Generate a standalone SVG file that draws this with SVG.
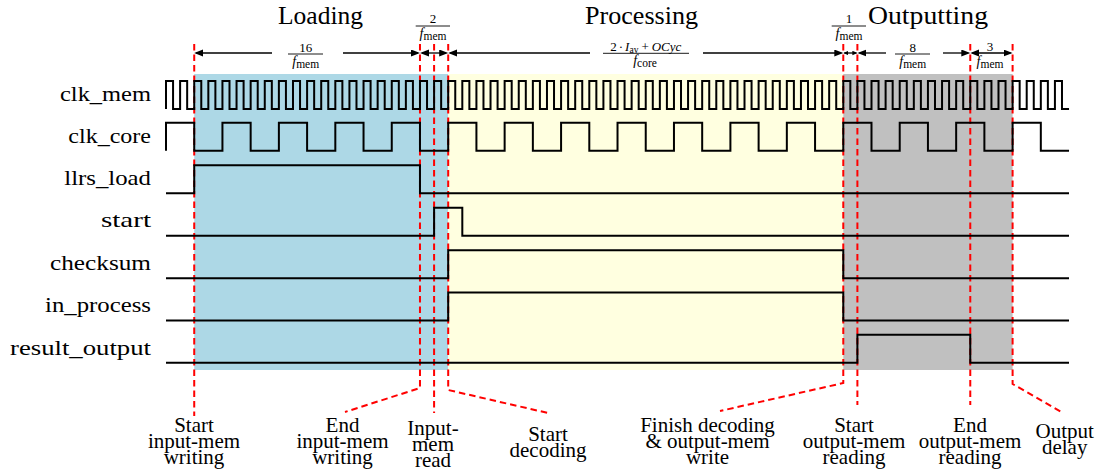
<svg xmlns="http://www.w3.org/2000/svg" width="1102" height="474" viewBox="0 0 1102 474">
<style>
.wave{fill:none;stroke:#000;stroke-width:2;stroke-linejoin:miter}
.lead{fill:none;stroke:#f00;stroke-width:2;stroke-dasharray:6.5 4}
.dim{fill:none;stroke:#000;stroke-width:1.3}
.bar{stroke:#000;stroke-width:0.9}
text{font-family:"Liberation Serif",serif;fill:#000}
.sig{font-size:21px}
.head{font-size:25px;text-anchor:middle}
.lbl{font-size:21px;text-anchor:middle}
.num{font-size:13px;text-anchor:middle}
.it{font-style:italic}
</style>
<defs>
<marker id="ah" markerUnits="userSpaceOnUse" markerWidth="10" markerHeight="8" refX="7" refY="3.5" orient="auto-start-reverse"><path d="M0,0 L9,3.5 L0,7 z" fill="#000"/></marker>
<marker id="ahs" markerUnits="userSpaceOnUse" markerWidth="6" markerHeight="5" refX="4" refY="2.2" orient="auto-start-reverse"><path d="M0,0 L5,2.2 L0,4.4 z" fill="#000"/></marker>
</defs>
<rect width="1102" height="474" fill="#fff"/>
<g id="phases">
<rect x="194.22" y="74" width="253.98" height="296" fill="#ADD8E6"/>
<rect x="448.2" y="74" width="395.08" height="296" fill="#FFFFE0"/>
<rect x="843.28" y="74" width="169.32" height="296" fill="#C0C0C0"/>
</g>
<g id="connectors">
<path class="lead" d="M194.22,44 V416"/>
<path class="lead" d="M419.98,44 V388 L345,412"/>
<path class="lead" d="M434.09,44 V413"/>
<path class="lead" d="M448.2,44 V390 L548,413"/>
<path class="lead" d="M843.28,44 V383 L720,411"/>
<path class="lead" d="M857.39,44 V405"/>
<path class="lead" d="M970.27,44 V405"/>
<path class="lead" d="M1012.6,44 V384 L1063,413"/>
<path class="dim" d="M196.2,53 H272" marker-start="url(#ah)"/>
<path class="dim" d="M343,53 H418" marker-end="url(#ah)"/>
<path class="dim" d="M422,53 H446.2" marker-start="url(#ah)" marker-end="url(#ah)"/>
<path class="dim" d="M450.2,53 H590" marker-start="url(#ah)"/>
<path class="dim" d="M703,53 H841.3" marker-end="url(#ah)"/>
<path class="dim" d="M844.3,53 H856.4" marker-start="url(#ahs)" marker-end="url(#ahs)"/>
<path class="dim" d="M859.4,53 H886" marker-start="url(#ah)"/>
<path class="dim" d="M943,53 H968.3" marker-end="url(#ah)"/>
<path class="dim" d="M972.3,53 H1010.6" marker-start="url(#ah)" marker-end="url(#ah)"/>
</g>
<g id="clk_mem">
<text class="sig" x="60" y="100.7" textLength="91" lengthAdjust="spacingAndGlyphs">clk_mem</text>
<path class="wave" d="M166,109 v-28h7.055v28h7.055v-28h7.055v28h7.055v-28h7.055v28h7.055v-28h7.055v28h7.055v-28h7.055v28h7.055v-28h7.055v28h7.055v-28h7.055v28h7.055v-28h7.055v28h7.055
v-28h7.055v28h7.055v-28h7.055v28h7.055v-28h7.055v28h7.055v-28h7.055v28h7.055v-28h7.055v28h7.055v-28h7.055v28h7.055v-28h7.055v28h7.055v-28h7.055v28h7.055
v-28h7.055v28h7.055v-28h7.055v28h7.055v-28h7.055v28h7.055v-28h7.055v28h7.055v-28h7.055v28h7.055v-28h7.055v28h7.055v-28h7.055v28h7.055v-28h7.055v28h7.055
v-28h7.055v28h7.055v-28h7.055v28h7.055v-28h7.055v28h7.055v-28h7.055v28h7.055v-28h7.055v28h7.055v-28h7.055v28h7.055v-28h7.055v28h7.055v-28h7.055v28h7.055
v-28h7.055v28h7.055v-28h7.055v28h7.055v-28h7.055v28h7.055v-28h7.055v28h7.055v-28h7.055v28h7.055v-28h7.055v28h7.055v-28h7.055v28h7.055v-28h7.055v28h7.055
v-28h7.055v28h7.055v-28h7.055v28h7.055v-28h7.055v28h7.055v-28h7.055v28h7.055v-28h7.055v28h7.055v-28h7.055v28h7.055v-28h7.055v28h7.055v-28h7.055v28h7.055
v-28h7.055v28h7.055v-28h7.055v28h7.055v-28h7.055v28h7.055v-28h7.055v28h7.055v-28h7.055v28h7.055v-28h7.055v28h7.055v-28h7.055v28h7.055v-28h7.055v28h7.055
v-28h7.055v28h7.055v-28h7.055v28h7.055v-28h7.055v28h7.055v-28h7.055v28h7.055v-28h7.055v28h7.055v-28h7.055v28h7.055v-28h7.055v28h7.055v-28h7.055v28h7.055"/>
</g>
<g id="clk_core">
<text class="sig" x="68.3" y="143" textLength="82.7" lengthAdjust="spacingAndGlyphs">clk_core</text>
<path class="wave" d="M166,150.8 v-28h28.22v28h28.22v-28h28.22v28h28.22v-28h28.22v28h28.22v-28h28.22v28h28.22v-28h28.22v28h28.22v-28h28.22v28h28.22v-28h28.22v28h28.22v-28h28.22v28h28.22
v-28h28.22v28h28.22v-28h28.22v28h28.22v-28h28.22v28h28.22v-28h28.22v28h28.22v-28h28.22v28h28.22v-28h28.22v28h28.22v-28h28.22v28h28.22v-28h28.22v28h28.22"/>
</g>
<g id="llrs_load">
<text class="sig" x="64.3" y="185.3" textLength="86.7" lengthAdjust="spacingAndGlyphs">llrs_load</text>
<path class="wave" d="M166,193.3 H194.22 V165.3 H419.98 V193.3 H1069"/>
</g>
<g id="start">
<text class="sig" x="101" y="227.3" textLength="50" lengthAdjust="spacingAndGlyphs">start</text>
<path class="wave" d="M166,235.8 H434.09 V207.8 H462.31 V235.8 H1069"/>
</g>
<g id="checksum">
<text class="sig" x="50" y="269.9" textLength="101" lengthAdjust="spacingAndGlyphs">checksum</text>
<path class="wave" d="M166,278.2 H448.2 V250.2 H843.28 V278.2 H1069"/>
</g>
<g id="in_process">
<text class="sig" x="45" y="312" textLength="106" lengthAdjust="spacingAndGlyphs">in_process</text>
<path class="wave" d="M166,320.6 H448.2 V292.6 H843.28 V320.6 H1069"/>
</g>
<g id="result_output">
<text class="sig" x="10" y="354.6" textLength="141" lengthAdjust="spacingAndGlyphs">result_output</text>
<path class="wave" d="M166,362.8 H857.39 V334.8 H970.27 V362.8 H1069"/>
</g>
<g id="headings">
<text class="head" x="320.5" y="24" textLength="85" lengthAdjust="spacingAndGlyphs">Loading</text>
<text class="head" x="641.5" y="24" textLength="113" lengthAdjust="spacingAndGlyphs">Processing</text>
<text class="head" x="928" y="24" textLength="120" lengthAdjust="spacingAndGlyphs">Outputting</text>
</g>
<g id="durations">
<text class="num" x="305.7" y="51.5">16</text>
<line class="bar" x1="288" y1="54" x2="323" y2="54"/>
<text class="num" x="305.7" y="65.5"><tspan class="it" font-size="14">f</tspan><tspan font-size="11.5" dy="2">mem</tspan></text>
<text class="num" x="433" y="23.3">2</text>
<line class="bar" x1="415.7" y1="26" x2="450" y2="26"/>
<text class="num" x="433" y="37.5"><tspan class="it" font-size="14">f</tspan><tspan font-size="11.5" dy="2">mem</tspan></text>
<text class="num" x="645.8" y="50.7" font-size="14.5">2<tspan dx="2">·</tspan><tspan class="it" dx="2">I</tspan><tspan font-size="9.5" dy="2">av</tspan><tspan dy="-2" dx="3">+</tspan><tspan class="it" dx="3">OCyc</tspan></text>
<line class="bar" x1="603" y1="53.3" x2="689" y2="53.3"/>
<text class="num" x="645" y="64.5"><tspan class="it" font-size="14">f</tspan><tspan font-size="11.5" dy="2">core</tspan></text>
<text class="num" x="849" y="23.3">1</text>
<line class="bar" x1="831.7" y1="26" x2="866" y2="26"/>
<text class="num" x="849" y="37.5"><tspan class="it" font-size="14">f</tspan><tspan font-size="11.5" dy="2">mem</tspan></text>
<text class="num" x="912.7" y="51.5">8</text>
<line class="bar" x1="895" y1="54" x2="930" y2="54"/>
<text class="num" x="912.7" y="65.5"><tspan class="it" font-size="14">f</tspan><tspan font-size="11.5" dy="2">mem</tspan></text>
<text class="num" x="990" y="51">3</text>
<text class="num" x="990" y="65.5"><tspan class="it" font-size="14">f</tspan><tspan font-size="11.5" dy="2">mem</tspan></text>
</g>
<g id="ev_start_in_write">
<text class="lbl" x="194" y="431.7">Start<tspan x="194" dy="16">input-mem</tspan><tspan x="194" dy="16">writing</tspan></text>
</g>
<g id="ev_end_in_write">
<text class="lbl" x="342.5" y="431.7">End<tspan x="342.5" dy="16">input-mem</tspan><tspan x="342.5" dy="16">writing</tspan></text>
</g>
<g id="ev_in_read">
<text class="lbl" x="433" y="435">Input-<tspan x="433" dy="16">mem</tspan><tspan x="433" dy="16">read</tspan></text>
</g>
<g id="ev_start_dec">
<text class="lbl" x="548" y="441">Start<tspan x="548" dy="16">decoding</tspan></text>
</g>
<g id="ev_finish_dec">
<text class="lbl" x="707.5" y="431.7">Finish decoding<tspan x="707.5" dy="16">&amp; output-mem</tspan><tspan x="707.5" dy="16">write</tspan></text>
</g>
<g id="ev_start_out_read">
<text class="lbl" x="854" y="431.7">Start<tspan x="854" dy="16">output-mem</tspan><tspan x="854" dy="16">reading</tspan></text>
</g>
<g id="ev_end_out_read">
<text class="lbl" x="970" y="431.7">End<tspan x="970" dy="16">output-mem</tspan><tspan x="970" dy="16">reading</tspan></text>
</g>
<g id="ev_out_delay">
<text class="lbl" x="1064.7" y="438.3">Output<tspan x="1064.7" dy="16">delay</tspan></text>
</g>
</svg>
